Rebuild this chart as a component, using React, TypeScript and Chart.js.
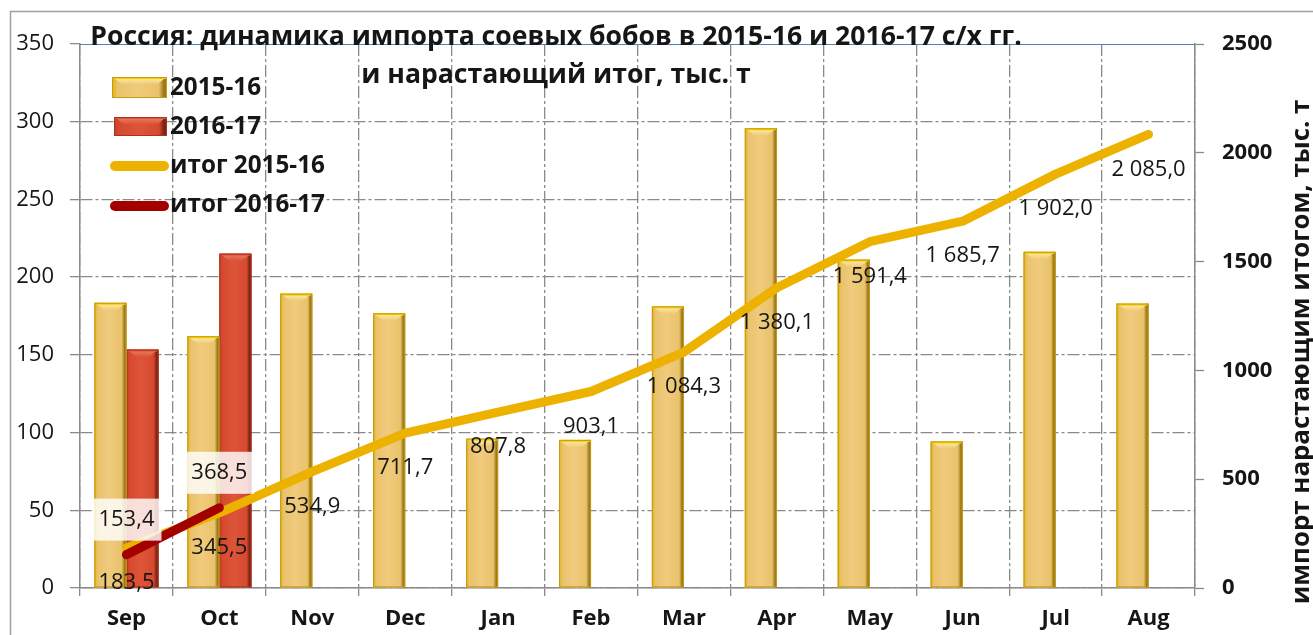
import React, { useEffect, useRef } from "react";
import { Chart, registerables } from "chart.js";

Chart.register(...registerables);

// ---------- data ----------
const months = ["Sep", "Oct", "Nov", "Dec", "Jan", "Feb", "Mar", "Apr", "May", "Jun", "Jul", "Aug"];
const import2015 = [183.5, 162.0, 189.4, 176.8, 96.1, 95.3, 181.2, 295.8, 211.3, 94.3, 216.3, 183.0];
const import2016: (number | null)[] = [153.4, 215.1, null, null, null, null, null, null, null, null, null, null];
const total2015 = [183.5, 345.5, 534.9, 711.7, 807.8, 903.1, 1084.3, 1380.1, 1591.4, 1685.7, 1902.0, 2085.0];
const total2016: (number | null)[] = [153.4, 368.5, null, null, null, null, null, null, null, null, null, null];
const leftAxisMax = 350;
const leftAxisStep = 50;
const rightAxisMax = 2500;
const rightAxisStep = 500;
const seriesNames = ["2015-16", "2016-17", "итог 2015-16", "итог 2016-17"];
const titleLines = [
  "Россия: динамика импорта соевых бобов в 2015-16 и 2016-17 с/х гг.",
  "и нарастающий итог, тыс. т",
];
const rightAxisTitle = "импорт нарастающим итогом, тыс. т";

// ---------- styles ----------
const FONT = "'Open Sans', 'DejaVu Sans', sans-serif";
const TEXT = "#161616";
const GRID = "#8a8a8a";
const YELLOW_LINE = "#EDB200";
const RED_LINE = "#A30000";

type Pal = { body: string; light: string; edgeL: string; edgeR: string; top: string; topLine: string; outline: string };
const YELLOW_BAR: Pal = {
  body: "#E9C26C",
  light: "#F0CB7C",
  edgeL: "#E2B200",
  edgeR: "#9C7A18",
  top: "#FFF0A6",
  topLine: "#F3CF00",
  outline: "#C79A10",
};
const RED_BAR: Pal = {
  body: "#D6492F",
  light: "#DD5539",
  edgeL: "#C83E28",
  edgeR: "#7E2415",
  top: "#E8836C",
  topLine: "#E0553C",
  outline: "#A8341F",
};

function fmt(v: number): string {
  const [i, d] = v.toFixed(1).split(".");
  return i.replace(/\B(?=(\d{3})+(?!\d))/g, " ") + "," + d;
}

function fitSize(ctx: CanvasRenderingContext2D, text: string, width: number, weight: string): number {
  ctx.font = `${weight} 100px ${FONT}`;
  const w = ctx.measureText(text).width;
  return (100 * width) / w;
}

function drawBarDeco(ctx: CanvasRenderingContext2D, left: number, top: number, w: number, h: number, p: Pal) {
  if (h <= 0 || w <= 0) return;
  ctx.save();
  const g = ctx.createLinearGradient(left, 0, left + w, 0);
  g.addColorStop(0, p.edgeL);
  g.addColorStop(0.1, p.body);
  g.addColorStop(0.45, p.light);
  g.addColorStop(0.85, p.body);
  g.addColorStop(0.94, p.edgeR);
  g.addColorStop(1, p.edgeR);
  ctx.fillStyle = g;
  ctx.fillRect(left, top, w, h);
  const b = Math.min(7, h / 2);
  ctx.beginPath();
  ctx.moveTo(left + 1, top);
  ctx.lineTo(left + w - 1, top);
  ctx.lineTo(left + w - b - 2, top + b);
  ctx.lineTo(left + b + 2, top + b);
  ctx.closePath();
  const tg = ctx.createLinearGradient(0, top, 0, top + b);
  tg.addColorStop(0, p.top);
  tg.addColorStop(1, p.light);
  ctx.fillStyle = tg;
  ctx.fill();
  ctx.strokeStyle = p.topLine;
  ctx.lineWidth = 2;
  ctx.beginPath();
  ctx.moveTo(left + 1, top + 1);
  ctx.lineTo(left + w - 1, top + 1);
  ctx.stroke();
  ctx.strokeStyle = p.outline;
  ctx.lineWidth = 1;
  ctx.strokeRect(left + 0.5, top + 0.5, w - 1, h - 1);
  ctx.restore();
}

const decorPlugin = {
  id: "decor",
  beforeDraw(chart: any) {
    const ctx: CanvasRenderingContext2D = chart.ctx;
    ctx.save();
    ctx.fillStyle = "#ffffff";
    ctx.fillRect(0, 0, chart.width, chart.height);
    ctx.strokeStyle = "#a0a0a0";
    ctx.lineWidth = 1.5;
    ctx.strokeRect(10.5, 11.5, chart.width + 20, chart.height + 20);
    ctx.restore();
  },
  beforeDatasetsDraw(chart: any) {
    const ctx: CanvasRenderingContext2D = chart.ctx;
    const a = chart.chartArea;
    ctx.save();
    ctx.strokeStyle = "#4F81BD";
    ctx.lineWidth = 1.2;
    ctx.beginPath();
    ctx.moveTo(a.left, a.top + 0.5);
    ctx.lineTo(a.right, a.top + 0.5);
    ctx.stroke();
    ctx.restore();
  },
  afterDatasetDraw(chart: any, args: any) {
    const meta = args.meta;
    if (meta.type !== "bar") return;
    const ctx: CanvasRenderingContext2D = chart.ctx;
    const pal = args.index === 0 ? YELLOW_BAR : RED_BAR;
    meta.data.forEach((el: any, i: number) => {
      const raw = chart.data.datasets[args.index].data[i];
      if (raw === null || raw === undefined) return;
      const w = el.width;
      drawBarDeco(ctx, el.x - w / 2, el.y, w, el.base - el.y, pal);
    });
  },
  afterDatasetsDraw(chart: any) {
    const ctx: CanvasRenderingContext2D = chart.ctx;
    ctx.save();
    // data labels for cumulative lines
    const labelSize = 22;
    ctx.font = `400 ${labelSize}px ${FONT}`;
    ctx.textAlign = "center";
    ctx.textBaseline = "middle";
    const yMeta = chart.getDatasetMeta(2);
    yMeta.data.forEach((pt: any, i: number) => {
      const v = total2015[i];
      if (v == null) return;
      ctx.fillStyle = TEXT;
      ctx.fillText(fmt(v), pt.x, pt.y + 35);
    });
    const rMeta = chart.getDatasetMeta(3);
    rMeta.data.forEach((pt: any, i: number) => {
      const v = total2016[i];
      if (v == null) return;
      const t = fmt(v);
      const tw = ctx.measureText(t).width;
      ctx.fillStyle = "rgba(255,255,255,0.82)";
      ctx.fillRect(pt.x - tw / 2 - 7, pt.y - 35 - 21, tw + 14, 42);
      ctx.fillStyle = TEXT;
      ctx.fillText(t, pt.x, pt.y - 35);
    });

    // legend
    drawBarDeco(ctx, 112, 77, 55, 21, YELLOW_BAR);
    drawBarDeco(ctx, 114, 117, 53, 19, RED_BAR);
    ctx.lineCap = "round";
    ctx.lineWidth = 10;
    ctx.strokeStyle = YELLOW_LINE;
    ctx.beginPath();
    ctx.moveTo(115, 166);
    ctx.lineTo(164, 166);
    ctx.stroke();
    ctx.strokeStyle = RED_LINE;
    ctx.beginPath();
    ctx.moveTo(115, 206);
    ctx.lineTo(164, 206);
    ctx.stroke();
    const legSize = fitSize(ctx, seriesNames[2], 155, "700");
    ctx.font = `700 ${legSize}px ${FONT}`;
    ctx.fillStyle = TEXT;
    ctx.textAlign = "left";
    ctx.textBaseline = "middle";
    const legY = [88, 127, 166, 205];
    seriesNames.forEach((n, i) => ctx.fillText(n, 170, legY[i]));

    // title
    ctx.textAlign = "center";
    ctx.textBaseline = "alphabetic";
    const tSize = fitSize(ctx, titleLines[0], 932, "700");
    ctx.font = `700 ${tSize}px ${FONT}`;
    ctx.fillText(titleLines[0], 556, 45);
    ctx.fillText(titleLines[1], 556, 83);

    // right axis title
    const rSize = fitSize(ctx, rightAxisTitle, 505, "700");
    ctx.font = `700 ${rSize}px ${FONT}`;
    ctx.translate(1302, 352);
    ctx.rotate(-Math.PI / 2);
    ctx.textAlign = "center";
    ctx.textBaseline = "middle";
    ctx.fillText(rightAxisTitle, 0, 0);
    ctx.restore();
  },
};

export default function App() {
  const ref = useRef<HTMLCanvasElement | null>(null);

  useEffect(() => {
    if (!ref.current) return;
    const chart = new Chart(ref.current, {
      type: "bar",
      data: {
        labels: months,
        datasets: [
          {
            type: "bar",
            label: seriesNames[0],
            data: import2015,
            yAxisID: "y",
            backgroundColor: YELLOW_BAR.body,
            borderWidth: 0,
            categoryPercentage: 0.69,
            barPercentage: 1.0,
            order: 2,
          },
          {
            type: "bar",
            label: seriesNames[1],
            data: import2016,
            yAxisID: "y",
            backgroundColor: RED_BAR.body,
            borderWidth: 0,
            categoryPercentage: 0.69,
            barPercentage: 1.0,
            order: 3,
          },
          {
            type: "line",
            label: seriesNames[2],
            data: total2015,
            yAxisID: "y1",
            borderColor: YELLOW_LINE,
            backgroundColor: YELLOW_LINE,
            borderWidth: 9,
            pointRadius: 0,
            borderCapStyle: "round",
            borderJoinStyle: "round",
            tension: 0,
            order: 1,
          },
          {
            type: "line",
            label: seriesNames[3],
            data: total2016,
            yAxisID: "y1",
            borderColor: RED_LINE,
            backgroundColor: RED_LINE,
            borderWidth: 9,
            pointRadius: 0,
            borderCapStyle: "round",
            borderJoinStyle: "round",
            tension: 0,
            order: 0,
          },
        ] as any,
      },
      options: {
        responsive: false,
        animation: false,
        layout: { padding: { top: 44, left: 0, right: 0, bottom: 0 } },
        plugins: {
          legend: { display: false },
          tooltip: { enabled: false },
          title: { display: false },
        },
        scales: {
          x: {
            type: "category",
            offset: true,
            grid: {
              offset: true,
              color: GRID,
              lineWidth: 1.3,
              drawTicks: true,
              tickLength: 8,
              tickColor: GRID,
              tickWidth: 1.3,
            },
            border: { display: true, color: GRID, width: 1.5, dash: [12, 3, 3, 3] },
            ticks: {
              color: TEXT,
              font: { family: FONT, size: 22, weight: "bold" },
              padding: 10,
              maxRotation: 0,
              autoSkip: false,
            },
            afterFit: (s: any) => {
              s.height = 47;
            },
          },
          y: {
            position: "left",
            min: 0,
            max: leftAxisMax,
            ticks: {
              stepSize: leftAxisStep,
              color: TEXT,
              font: { family: FONT, size: 22 },
              padding: 16,
              callback: (v: any) => String(v),
            },
            grid: {
              color: (c: any) => (c.tick && c.tick.value === leftAxisMax ? "rgba(0,0,0,0)" : GRID),
              lineWidth: 1.3,
              drawTicks: true,
              tickLength: 10,
              tickColor: GRID,
              tickWidth: 1.3,
            },
            border: { display: true, color: GRID, width: 1.5, dash: [12, 3, 3, 3] },
            afterFit: (s: any) => {
              s.width = 80;
            },
          },
          y1: {
            position: "right",
            min: 0,
            max: rightAxisMax,
            ticks: {
              stepSize: rightAxisStep,
              color: TEXT,
              font: { family: FONT, size: 22, weight: "bold" },
              padding: 18,
              callback: (v: any) => String(v),
            },
            grid: {
              drawOnChartArea: false,
              drawTicks: true,
              tickLength: 9,
              tickColor: GRID,
              tickWidth: 1.3,
            },
            border: { display: true, color: GRID, width: 1.5 },
            afterFit: (s: any) => {
              s.width = 118;
            },
          },
        },
      } as any,
      plugins: [decorPlugin],
    });
    return () => chart.destroy();
  }, []);

  return (
    <div style={{ position: "fixed", left: 0, top: 0, width: 1313, height: 635, background: "#fff" }}>
      <canvas ref={ref} width={1313} height={635} style={{ display: "block", width: 1313, height: 635 }} />
    </div>
  );
}
